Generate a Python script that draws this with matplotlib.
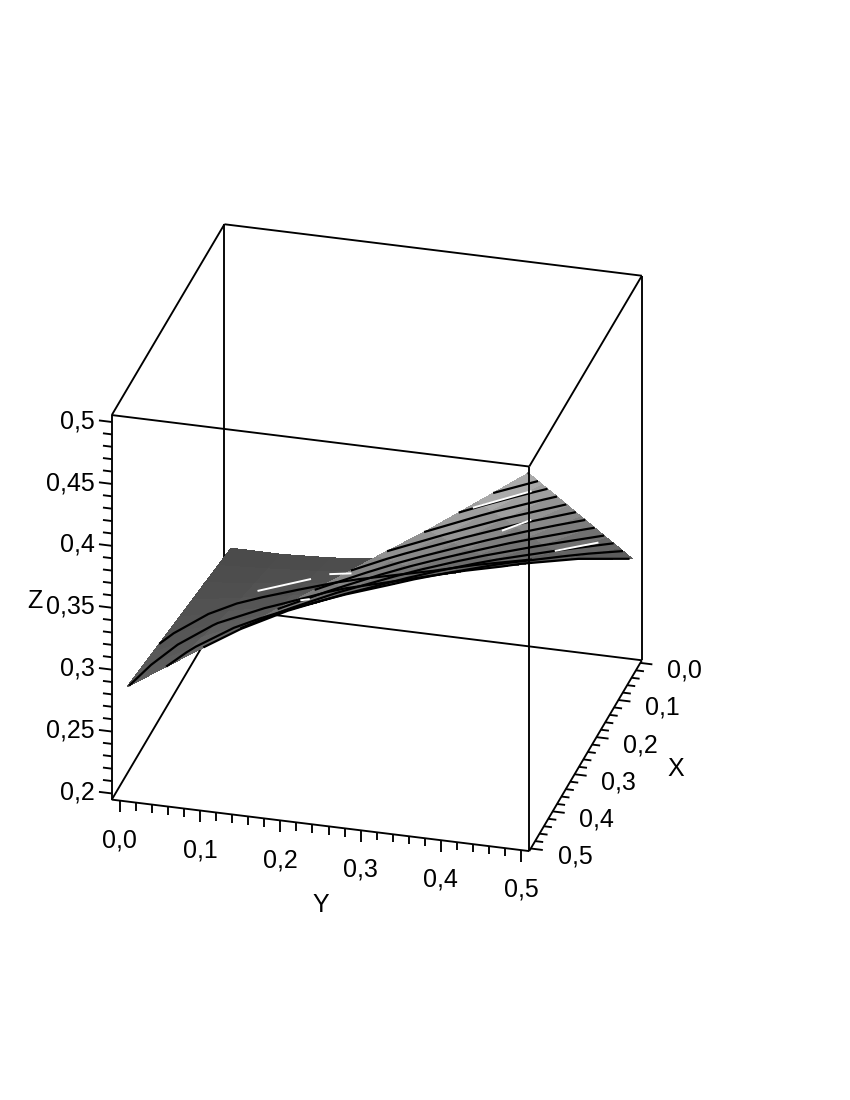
import numpy as np
import matplotlib
matplotlib.use("Agg")
import matplotlib.pyplot as plt
from mpl_toolkits.mplot3d import proj3d

plt.rcParams['font.family'] = ['Liberation Sans', 'DejaVu Sans']

# values
x_vals = [0.0, 0.0593, 0.1185, 0.1778, 0.237, 0.2963, 0.3555, 0.4148, 0.474]
y_vals = [0.0, 0.0625, 0.125, 0.1875, 0.25, 0.3125, 0.375, 0.4375, 0.5]
z_vals = [
    [.2469, .2469, .2490, .2531, .2578, .2625, .2677, .2728, .2783],
    [.2506, .2529, .2558, .2607, .2659, .2723, .2811, .2923, .3048],
    [.2545, .2588, .2638, .2702, .2771, .2874, .3009, .3149, .3311],
    [.2582, .2649, .2717, .2809, .2909, .3055, .3216, .3385, .3576],
    [.2619, .2718, .2806, .2926, .3068, .3247, .3434, .3631, .3840],
    [.2657, .2789, .2916, .3064, .3242, .3449, .3652, .3878, .4104],
    [.2695, .2868, .3038, .3221, .3427, .3652, .3880, .4124, .4369],
    [.2733, .2949, .3158, .3380, .3611, .3865, .4108, .4371, .4632],
    [.2770, .3029, .3289, .3548, .3808, .4077, .4337, .4617, .4897],
]
levels = [.2677, .2780, .2972, .3164, .3356, .3548, .3740, .3932, .4124, .4316, .4508, .4700, .4892]

# the thin white dashes left on the surface
streak_x = [(.160, .115), (.096, .088), (.423, .365), (.316, .282), (.071, .038), (.243, .238)]
streak_y = [(.078, .130), (.150, .173), (.418, .473), (.425, .450), (.424, .467), (.154, .162)]
streak_z = [.2667, .2667, .44, .39, .30, .29]

x_ticks = [0.0, 0.1, 0.2, 0.3, 0.4, 0.5]
y_ticks = [0.0, 0.1, 0.2, 0.3, 0.4, 0.5]
z_ticks = [0.2, 0.25, 0.3, 0.35, 0.4, 0.45, 0.5]
x_labels = ["0,0", "0,1", "0,2", "0,3", "0,4", "0,5"]
y_labels = ["0,0", "0,1", "0,2", "0,3", "0,4", "0,5"]
z_labels = ["0,2", "0,25", "0,3", "0,35", "0,4", "0,45", "0,5"]

x0, x1 = -0.007, 0.507
y0, y1 = -0.01, 0.51
z0, z1 = 0.195, 0.5056

fig = plt.figure(figsize=(8.5, 11), dpi=100)
S = 727
cx, cy = 367, 552.5
ax = fig.add_axes([(cx - S / 2) / 850, (cy - S / 2) / 1100, S / 850, S / 1100],
                  projection='3d', proj_type='ortho', computed_zorder=False)
ax.view_init(elev=27.2, azim=15.1)
ax.set_box_aspect((1, 1, 1))
ax.set_xlim(x0, x1)
ax.set_ylim(y0, y1)
ax.set_zlim(z0, z1)
ax.set_xticks([])
ax.set_yticks([])
ax.set_zticks([])
ax.set_axis_off()

Y, X = np.meshgrid(y_vals, x_vals)
Z = np.array(z_vals)

ax.plot_surface(X, Y, Z, rstride=1, cstride=1, cmap='gray', vmin=0.0805, vmax=0.654,
                shade=False, linewidth=0, antialiased=False, zorder=2)
ax.contour(X, Y, Z, levels=levels, colors='black', linewidths=1.6, zorder=3)

for sx, sy, sz in zip(streak_x, streak_y, streak_z):
    ax.plot(sx, sy, [sz, sz], color='white', lw=1.4, zorder=4)

LW = 1.35


def seg(a, b, z):
    ax.plot([a[0], b[0]], [a[1], b[1]], [a[2], b[2]], color='black', lw=LW,
            solid_capstyle='butt', zorder=z)


def label(x, y, z, s, ha='center'):
    # place the text where the 3D point lands on the flat axes
    px, py, _ = proj3d.proj_transform(x, y, z, ax.get_proj())
    ax.text2D(px, py, s, transform=ax.transData, ha=ha, va='center', fontsize=18, zorder=6)


# box, back edges first so the surface covers them
seg((x0, y0, z0), (x0, y1, z0), 1)
seg((x0, y0, z0), (x1, y0, z0), 1)
seg((x0, y0, z0), (x0, y0, z1), 1)
seg((x0, y1, z0), (x0, y1, z1), 1)
seg((x0, y0, z1), (x0, y1, z1), 1)
seg((x0, y0, z1), (x1, y0, z1), 1)
seg((x0, y1, z1), (x1, y1, z1), 1)
seg((x1, y0, z1), (x1, y1, z1), 5)
seg((x1, y1, z0), (x1, y1, z1), 5)
seg((x1, y0, z0), (x1, y0, z1), 5)
seg((x1, y0, z0), (x1, y1, z0), 5)
seg((x0, y1, z0), (x1, y1, z0), 5)

# ticks
for i in range(26):
    v = i * 0.02
    ln = 0.0093 if i % 5 == 0 else 0.0066
    seg((x1, v, z0), (x1, v, z0 - ln), 5)
    ln = 0.015 if i % 5 == 0 else 0.010
    seg((v, y1, z0), (v, y1 + ln, z0), 5)
for i in range(31):
    v = 0.2 + i * 0.01
    ln = 0.016 if i % 5 == 0 else 0.011
    seg((x1, y0, v), (x1, y0 - ln, v), 5)

for v, s in zip(y_ticks, y_labels):
    label(x1, v, z0 - 0.032, s)
for v, s in zip(x_ticks, x_labels):
    label(v, y1 + 0.055, z0 - 0.002, s)
for v, s in zip(z_ticks, z_labels):
    label(x1, y0 - 0.021, v - 0.001, s, ha='right')

label(x1, 0.25, z0 - 0.064, "Y")
label(0.25, y1 + 0.1125, z0 - 0.002, "X")
label(x1, y0 - 0.096, 0.348, "Z")

fig.savefig("out.png", dpi=100)
